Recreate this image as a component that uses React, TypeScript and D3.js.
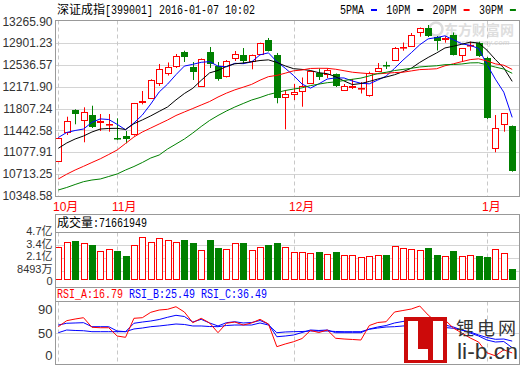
import * as d3 from 'd3';

// trading days 2015-10-22 .. 2016-01-07
const dates = [
  '2015-10-22', '2015-10-23', '2015-10-26', '2015-10-27', '2015-10-28', '2015-10-29', '2015-10-30',
  '2015-11-02', '2015-11-03', '2015-11-04', '2015-11-05', '2015-11-06',
  '2015-11-09', '2015-11-10', '2015-11-11', '2015-11-12', '2015-11-13',
  '2015-11-16', '2015-11-17', '2015-11-18', '2015-11-19', '2015-11-20',
  '2015-11-23', '2015-11-24', '2015-11-25', '2015-11-26', '2015-11-27',
  '2015-11-30',
  '2015-12-01', '2015-12-02', '2015-12-03', '2015-12-04',
  '2015-12-07', '2015-12-08', '2015-12-09', '2015-12-10', '2015-12-11',
  '2015-12-14', '2015-12-15', '2015-12-16', '2015-12-17', '2015-12-18',
  '2015-12-21', '2015-12-22', '2015-12-23', '2015-12-24', '2015-12-25',
  '2015-12-28', '2015-12-29', '2015-12-30', '2015-12-31',
  '2016-01-04', '2016-01-05', '2016-01-06', '2016-01-07',
];

const open = [
  10934, 11419, 11782, 11610, 11698, 11576, 11540, 11317, 11347, 11376,
  11924, 11978, 12242, 12409, 12523, 12757, 12501, 12189, 12752, 12518,
  12346, 12660, 12702, 12602, 12714, 12961, 12702, 12005, 12045, 12095,
  12229, 12409, 12381, 12381, 12125, 12167, 12142, 12033, 12431, 12532,
  12624, 12831, 12856, 13082, 13154, 12995, 12973, 13045, 12710, 12864,
  12903, 12647, 11146, 11548, 11515,
];
const high = [
  11322, 11670, 11794, 11827, 11854, 11715, 11715, 11643, 11431, 11900,
  12100, 12296, 12552, 12577, 12719, 12774, 12585, 12644, 12836, 12585,
  12618, 12769, 12819, 12710, 12908, 12987, 12736, 12117, 12217, 12326,
  12443, 12476, 12480, 12393, 12217, 12301, 12250, 12423, 12568, 12590,
  12836, 12911, 13070, 13162, 13204, 13020, 13015, 13079, 12819, 12925,
  12925, 12669, 11698, 11732, 11523,
];
const low = [
  10917, 11364, 11543, 11242, 11481, 11431, 11419, 11280, 11225, 11352,
  11877, 11966, 12184, 12359, 12485, 12585, 12284, 12179, 12485, 12272,
  12326, 12602, 12552, 12463, 12710, 12761, 11894, 11459, 11949, 11837,
  12225, 12284, 12317, 12167, 12100, 12133, 12058, 12005, 12426, 12468,
  12618, 12774, 12853, 13008, 13003, 12777, 12908, 12694, 12593, 12774,
  12669, 11632, 11075, 11419, 10750,
];
const close = [
  11309, 11603, 11710, 11754, 11503, 11593, 11556, 11304, 11302, 11894,
  11941, 12279, 12463, 12496, 12685, 12664, 12423, 12630, 12552, 12309,
  12610, 12714, 12602, 12702, 12898, 12774, 11978, 12050, 12088, 12189,
  12435, 12339, 12451, 12179, 12184, 12179, 12153, 12406, 12488, 12521,
  12824, 12841, 13032, 13149, 13012, 12936, 12987, 12702, 12814, 12875,
  12680, 11643, 11476, 11727, 10767,
];

const ma5 = [
  11322, 11406, 11439, 11464, 11576, 11633, 11623, 11542, 11452, 11565,
  11698, 11882, 12083, 12215, 12373, 12517, 12546, 12580, 12591, 12516,
  12505, 12563, 12557, 12587, 12705, 12738, 12591, 12480, 12358, 12216,
  12148, 12220, 12300, 12319, 12318, 12266, 12229, 12220, 12282, 12349,
  12478, 12616, 12741, 12873, 12972, 12994, 13023, 12957, 12890, 12863,
  12812, 12543, 12298, 12080, 11659,
];
const ma10 = [
  11141, 11230, 11297, 11347, 11414, 11464, 11473, 11476, 11456, 11553,
  11616, 11684, 11759, 11833, 11951, 12058, 12145, 12278, 12403, 12444,
  12511, 12555, 12569, 12589, 12610, 12621, 12577, 12519, 12473, 12461,
  12443, 12406, 12390, 12338, 12267, 12207, 12225, 12260, 12300, 12334,
  12372, 12423, 12481, 12578, 12661, 12736, 12820, 12849, 12882, 12917,
  12903, 12783, 12627, 12485, 12261,
];
const ma20 = [
  10628, 10708, 10778, 10840, 10904, 10966, 11038, 11113, 11222, 11331,
  11414, 11481, 11548, 11615, 11690, 11749, 11807, 11866, 11924, 11999,
  12064, 12119, 12164, 12211, 12281, 12340, 12361, 12398, 12438, 12452,
  12477, 12480, 12479, 12464, 12439, 12414, 12401, 12390, 12386, 12397,
  12408, 12414, 12436, 12458, 12464, 12472, 12522, 12555, 12591, 12625,
  12638, 12603, 12554, 12531, 12461,
];
const ma30 = [
  10444, 10486, 10536, 10583, 10611, 10628, 10670, 10712, 10778, 10837,
  10904, 10979, 11029, 11130, 11213, 11297, 11397, 11506, 11607, 11690,
  11765, 11832, 11891, 11949, 11991, 12041, 12075, 12108, 12133, 12153,
  12190, 12215, 12239, 12253, 12276, 12296, 12316, 12352, 12392, 12413,
  12442, 12461, 12480, 12502, 12513, 12522, 12540, 12543, 12552, 12570,
  12573, 12537, 12500, 12467, 12396,
];

// volume in 亿
const volume = [
  3.2, 3.7, 3.83, 3.63, 3.43, 2.8, 3.0, 2.83, 2.34, 3.43,
  4.19, 3.7, 4.1, 3.9, 3.7, 3.93, 3.63, 2.9, 3.93, 3.13,
  3.0, 3.63, 3.63, 2.9, 3.2, 3.43, 3.66, 3.2, 2.7, 2.7,
  2.6, 2.73, 2.5, 2.73, 2.41, 2.41, 2.21, 2.31, 2.41, 2.44,
  3.3, 3.1, 3.0, 2.9, 3.13, 2.44, 2.31, 2.83, 2.31, 2.41,
  2.34, 2.24, 3.0, 2.63, 1.04,
];

const rsiA = [
  60.5, 70.5, 73.3, 75.5, 59.5, 58.8, 58.8, 45, 42.8, 74.5,
  75.5, 84.5, 88.3, 89.5, 93.8, 85, 67.2, 74.5, 66.7, 50.5,
  66.2, 68.3, 63.3, 66.7, 72.8, 65, 27.2, 31.7, 35.5, 40.8,
  54.2, 50.8, 55, 41.2, 40, 39.2, 38.3, 62.5, 67.5, 68.8,
  85, 87.5, 90, 95, 80, 68, 71.7, 58.3, 50, 41.7,
  35, 17, 12, 22, 16.79,
];
const rsiB = [
  63.3, 66.2, 66.7, 67.2, 60.5, 60.5, 60.5, 53.3, 52.2, 66.2,
  68.3, 70, 72.5, 76.2, 79.5, 77.5, 68.3, 72.8, 66.7, 61.7,
  67.2, 68.8, 66.7, 67.5, 70.8, 65, 43.8, 45, 46.7, 50.8,
  55, 54.2, 55, 50.5, 50.5, 50.5, 50.5, 56.7, 60, 62.5,
  66.7, 69.2, 71.7, 74.5, 68.3, 63.3, 63.3, 60, 55, 50,
  45, 38.3, 35, 35.8, 25.49,
];
const rsiC = [
  50.5, 55, 54.2, 53.8, 52.2, 52.2, 52.2, 52.2, 52.2, 56.7,
  58.3, 60.5, 61.7, 63.3, 65, 64.2, 61.7, 61.7, 60.8, 60.5,
  62.5, 63.3, 63.3, 63.3, 66.7, 63.3, 50.5, 51.7, 52.2, 52.5,
  53.3, 53.3, 53.3, 52.5, 52.2, 52.2, 52.2, 56.2, 58.3, 60,
  60.5, 61.7, 62.5, 63.3, 61.7, 60, 59.2, 57.8, 55, 51.7,
  46.7, 42.5, 39.5, 40, 36.49,
];

const priceTicks = [10348.58, 10713.25, 11077.91, 11442.58, 11807.24, 12171.9, 12536.57, 12901.23, 13265.9];
const volTicks = [0.8493, 2.1233, 3.3973, 4.6713];
const rsiTicks = [90, 50, 0];
const maLabels = ['5PMA', '10PM', '20PM', '30PM'];

const RED = '#ff0000';
const GREEN = '#008000';
const BLUE = '#0000ff';
const FRAME = '#999999';
const GRID = '#d4d4d4';
const SANS = "'Liberation Sans', Arial, 'Noto Sans CJK SC', sans-serif";
const MONO = "'Liberation Mono', 'DejaVu Sans Mono', monospace";
const CJK = "'Noto Sans CJK SC', sans-serif";

function App() {
  const W = 520;
  const H = 365;
  const L = 55.5;
  const R = 519.5;
  const main = { top: 20.5, bottom: 196.5 };
  const vol = { top: 214.5, head: 232.5, bottom: 287.5 };
  const rsi = { top: 287.5, head: 301.5, bottom: 364.5 };

  const x = d3.scalePoint<string>().domain(dates).range([58.3, 512.2]);
  const yP = d3.scaleLinear().domain([10348.58, 13265.9]).range([195.7, 21.3]);
  const yV = d3.scaleLinear().domain([0, 4.6713]).range([279.5, 232.5]);
  const yR = d3.scaleLinear().domain([0, 100]).range([363, 303]);

  const cxOf = (i: number) => Math.round(x(dates[i])!);
  const snap = (v: number) => Math.round(v) + 0.5;

  const monthStarts = dates
    .map((_, i) => i)
    .filter((i) => i === 0 || dates[i].slice(5, 7) !== dates[i - 1].slice(5, 7));

  const maSeries = [
    { label: maLabels[0], color: BLUE, values: ma5 },
    { label: maLabels[1], color: '#000000', values: ma10 },
    { label: maLabels[2], color: RED, values: ma20 },
    { label: maLabels[3], color: GREEN, values: ma30 },
  ];
  const rsiSeries = [
    { name: 'RSI_C', color: BLUE, values: rsiC },
    { name: 'RSI_B', color: BLUE, values: rsiB },
    { name: 'RSI_A', color: RED, values: rsiA },
  ];

  const priceLine = d3
    .line<number>()
    .x((_, i) => x(dates[i])!)
    .y((v) => yP(v));
  const rsiLine = d3
    .line<number>()
    .x((_, i) => x(dates[i])!)
    .y((v) => yR(v));

  const volLabel = (v: number) => (v < 1 ? `${Math.round(v * 10000)}万` : `${v.toFixed(1)}亿`);

  const monoText = (s: string, tx: number, ty: number, fill: string, key?: string) => (
    <text
      key={key}
      x={tx}
      y={ty}
      fill={fill}
      fontFamily={MONO}
      fontSize={12}
      textLength={s.length * 6}
      lengthAdjust="spacingAndGlyphs"
    >
      {s}
    </text>
  );

  return (
    <svg
      width={W}
      height={H}
      style={{ position: 'absolute', left: 0, top: 0, background: '#ffffff' }}
    >
      <defs>
        <clipPath id="mainClip">
          <rect x={L} y={main.top} width={R - L} height={main.bottom - main.top} />
        </clipPath>
        <clipPath id="rsiClip">
          <rect x={L} y={rsi.head} width={R - L} height={rsi.bottom - rsi.head} />
        </clipPath>
      </defs>

      {/* title */}
      <text x={57} y={13.5} fontFamily={CJK} fontSize={12} fill="#000">
        深证成指
      </text>
      {monoText('[399001] 2016-01-07 10:02', 105, 13.5, '#000')}

      {/* legend */}
      {maSeries.map((s, i) => {
        const lx = 340 + i * 46.3;
        return (
          <g key={s.label}>
            {monoText(s.label, lx, 13.5, '#000')}
            <line x1={lx + 31} x2={lx + 37} y1={10} y2={10} stroke={s.color} strokeWidth={2} />
          </g>
        );
      })}

      {/* main grid */}
      {priceTicks.slice(1, -1).map((t) => (
        <line key={t} x1={L} x2={R} y1={snap(yP(t))} y2={snap(yP(t))} stroke={GRID} />
      ))}
      {priceTicks.map((t) => (
        <text
          key={`l${t}`}
          x={52.5}
          y={yP(t)}
          dy="0.36em"
          textAnchor="end"
          fontFamily={SANS}
          fontSize={12}
          fill="#333"
        >
          {t.toFixed(2)}
        </text>
      ))}

      {/* month separators + labels */}
      {monthStarts.map((i) => {
        const mx = cxOf(i) + 0.5;
        return (
          <g key={`m${i}`}>
            <line x1={mx} x2={mx} y1={main.top} y2={main.bottom} stroke="#c8c8c8" strokeDasharray="4,3" />
            <line x1={mx} x2={mx} y1={vol.head} y2={280} stroke="#c8c8c8" strokeDasharray="4,3" />
            <line x1={mx} x2={mx} y1={rsi.head} y2={rsi.bottom} stroke="#c8c8c8" strokeDasharray="4,3" />
            <text x={mx - 5.5} y={211} fontFamily={SANS} fontSize={12} fill={RED}>
              {`${+dates[i].slice(5, 7)}月`}
            </text>
          </g>
        );
      })}

      {/* eastmoney watermark */}
      <g opacity={0.55}>
        <circle cx={436} cy={29} r={6.5} fill="none" stroke="#c0c0c0" strokeWidth={2.5} />
        <text x={444} y={34.5} fontFamily={CJK} fontSize={14} fontWeight="bold" fill="#c4c4c4">
          东方财富网
        </text>
        <text x={453} y={45} fontFamily={SANS} fontSize={7.5} fontStyle="italic" fontWeight="bold" fill="#c4c4c4">
          eastmoney.com
        </text>
      </g>

      {/* candles */}
      {dates.map((d, i) => {
        const cx = cxOf(i);
        const o = open[i];
        const c = close[i];
        const up = c >= o;
        const color = up ? RED : GREEN;
        const yTop = Math.round(yP(Math.max(o, c)));
        const yBot = Math.round(yP(Math.min(o, c)));
        const yH = yP(high[i]);
        const yL = yP(low[i]);
        if (up) {
          return (
            <g key={d}>
              <line x1={cx + 0.5} x2={cx + 0.5} y1={yH} y2={yTop} stroke={color} />
              <line x1={cx + 0.5} x2={cx + 0.5} y1={yBot + 1} y2={yL} stroke={color} />
              <rect
                x={cx - 2.5}
                y={yTop + 0.5}
                width={6}
                height={Math.max(yBot - yTop, 0.6)}
                fill="#fff"
                stroke={color}
              />
            </g>
          );
        }
        return (
          <g key={d}>
            <line x1={cx + 0.5} x2={cx + 0.5} y1={yH} y2={yL} stroke={color} />
            <rect x={cx - 3} y={yTop} width={7} height={Math.max(yBot - yTop, 1.5)} fill={color} />
          </g>
        );
      })}

      {/* moving averages */}
      <g clipPath="url(#mainClip)">
        {maSeries.map((s) => (
          <path key={s.label} d={priceLine(s.values) ?? ''} fill="none" stroke={s.color} strokeWidth={1} />
        ))}
      </g>

      {/* main frame */}
      <rect x={L} y={main.top} width={R - L} height={main.bottom - main.top} fill="none" stroke={FRAME} />

      {/* volume panel */}
      {volTicks.slice(0, -1).map((t) => (
        <line key={t} x1={L} x2={R} y1={snap(yV(t))} y2={snap(yV(t))} stroke={GRID} />
      ))}
      {volume.map((v, i) => {
        const cx = cxOf(i);
        const up = close[i] >= open[i];
        const top = Math.round(yV(v));
        const base = Math.round(yV(0));
        return up ? (
          <rect
            key={`v${i}`}
            x={cx - 2.5}
            y={top + 0.5}
            width={6}
            height={base - top - 1}
            fill="#fff"
            stroke={RED}
          />
        ) : (
          <rect key={`v${i}`} x={cx - 3} y={top} width={7} height={base - top} fill={GREEN} />
        );
      })}
      <rect x={L} y={vol.top} width={R - L} height={vol.bottom - vol.top} fill="none" stroke={FRAME} />
      <line x1={L} x2={R} y1={vol.head} y2={vol.head} stroke={FRAME} />
      <text x={57} y={227} fontFamily={CJK} fontSize={12} fill="#000">
        成交量
      </text>
      {monoText(':71661949', 93, 227, '#000')}
      {volTicks.map((t) => (
        <text
          key={`vl${t}`}
          x={52.5}
          y={yV(t) - 1.5}
          dy="0.34em"
          textAnchor="end"
          fontFamily={SANS}
          fontSize={11}
          fill="#333"
        >
          {volLabel(t)}
        </text>
      ))}
      <text x={52.5} y={yV(0) + 1.5} dy="0.34em" textAnchor="end" fontFamily={SANS} fontSize={11} fill="#333">
        0
      </text>

      {/* RSI panel */}
      <line x1={L} x2={R} y1={snap(yR(50))} y2={snap(yR(50))} stroke={GRID} />
      <g clipPath="url(#rsiClip)">
        {rsiSeries.map((s) => (
          <path key={s.name} d={rsiLine(s.values) ?? ''} fill="none" stroke={s.color} strokeWidth={1} />
        ))}
      </g>
      <rect x={L} y={rsi.top} width={R - L} height={rsi.bottom - rsi.top} fill="none" stroke={FRAME} />
      <line x1={L} x2={R} y1={rsi.head} y2={rsi.head} stroke={FRAME} />
      {monoText(`RSI_A:${rsiA[rsiA.length - 1].toFixed(2)}`, 57, 297.5, RED)}
      {monoText(`RSI_B:${rsiB[rsiB.length - 1].toFixed(2)}`, 129, 297.5, BLUE)}
      {monoText(`RSI_C:${rsiC[rsiC.length - 1].toFixed(2)}`, 201, 297.5, BLUE)}
      {rsiTicks.map((t) => (
        <text
          key={`r${t}`}
          x={52.5}
          y={Math.min(yR(t), 355)}
          dy="0.36em"
          textAnchor="end"
          fontFamily={SANS}
          fontSize={13}
          fill="#333"
        >
          {t}
        </text>
      ))}

      {/* li-b.cn watermark */}
      <g>
        <rect x={404} y={317} width={43} height={46} fill="#cc0a0a" />
        <rect x={408} y={321} width={10} height={39} fill="#fff" />
        <rect x={408} y={349} width={20} height={11} fill="#fff" />
        <rect x={433} y={321} width={10} height={39} fill="#fff" />
        <text x={456} y={335} fontFamily={CJK} fontSize={18} letterSpacing={3} fill="#333">
          锂电网
        </text>
        <text
          x={457}
          y={359}
          fontFamily={SANS}
          fontSize={22}
          fill="#333"
          textLength={61}
          lengthAdjust="spacingAndGlyphs"
        >
          li-b.cn
        </text>
      </g>
    </svg>
  );
}

export default App;
